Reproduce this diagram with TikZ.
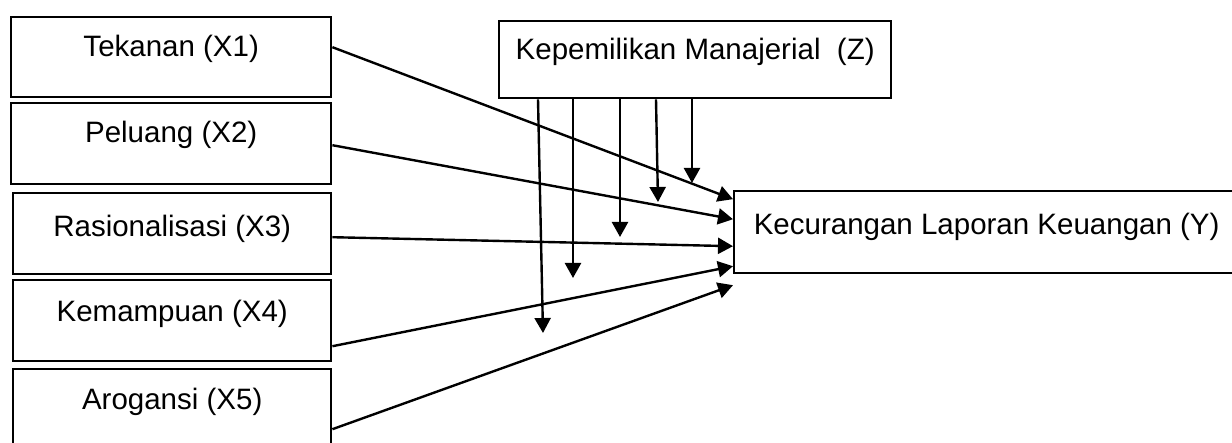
\documentclass[tikz,border=0pt]{standalone}
\usepackage{fontspec}
\setmainfont{Liberation Sans}
\usetikzlibrary{arrows.meta}
\begin{document}
\begin{tikzpicture}[x=1pt,y=-1pt,
  box/.style={draw,line width=2.4pt,inner sep=0pt,anchor=north west,
    font=\fontsize{29.5}{35}\selectfont},
  arr/.style={line width=2.4pt,-{Triangle[length=15pt,width=16pt]}}]
\useasboundingbox (0,0) rectangle (1232,443);
\node[box,minimum width=320pt,text height=39pt,text depth=41pt] (x1) at (10,16) {Tekanan (X1)};
\node[box,minimum width=320pt,text height=39pt,text depth=42pt] (x2) at (10,102) {Peluang (X2)};
\node[box,minimum width=318pt,text height=43pt,text depth=38pt] (x3) at (12,192) {Rasionalisasi (X3)};
\node[box,minimum width=318pt,text height=41pt,text depth=40pt] (x4) at (12,279) {Kemampuan (X4)};
\node[box,minimum width=318pt,text height=40pt,text depth=44pt] (x5) at (12,368) {Arogansi (X5)};
\node[box,minimum width=392pt,text height=38pt,text depth=39pt] (z) at (498,20) {Kepemilikan Manajerial\ \ (Z)};
\node[box,minimum width=505pt,text height=43pt,text depth=39pt] (y) at (733,190) {Kecurangan Laporan Keuangan (Y)};
% arrows X -> Y
\draw[arr] ([yshift=10pt]x1.east) -- ([yshift=33pt]y.west);
\draw[arr] ([yshift=-1.5pt]x2.east) -- ([yshift=13pt]y.west);
\draw[arr] ([yshift=-3.5pt]x3.east) -- ([yshift=-14pt]y.west);
\draw[arr] ([yshift=-25.5pt]x4.east) -- ([yshift=-34pt]y.west);
\draw[arr] ([yshift=-18pt]x5.east) -- ([yshift=-53pt]y.west);
% moderating arrows
\coordinate (m1) at (543,333);
\coordinate (m2) at (573,278);
\coordinate (m3) at (620,237);
\coordinate (m4) at (658,202);
\coordinate (m5) at (692,183);
\draw[arr] ([xshift=40pt]z.south west) -- (m1);
\draw[arr] ([xshift=75pt]z.south west) -- (m2);
\draw[arr] ([xshift=122pt]z.south west) -- (m3);
\draw[arr] ([xshift=158pt]z.south west) -- (m4);
\draw[arr] ([xshift=194pt]z.south west) -- (m5);
\end{tikzpicture}
\end{document}
